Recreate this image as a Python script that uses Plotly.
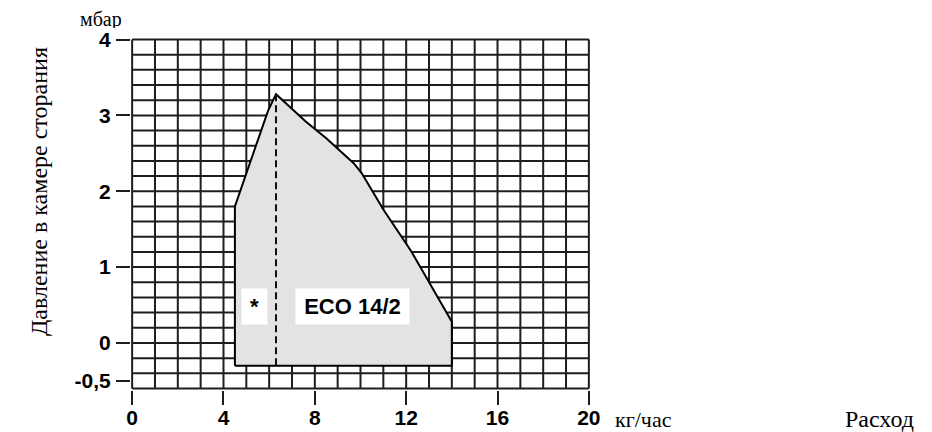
import plotly.graph_objects as go

# ---- data ----
x_ticks = [0, 4, 8, 12, 16, 20]
x_ticklabels = ["0", "4", "8", "12", "16", "20"]
y_ticks = [-0.5, 0, 1, 2, 3, 4]
y_ticklabels = ["-0,5", "0", "1", "2", "3", "4"]

grid_x = list(range(0, 21))                             # vertical grid every 1 kg/h
grid_y = [round(-0.6 + 0.2 * i, 1) for i in range(24)]  # horizontal grid every 0.2 mbar

# working field of ECO 14/2 (polygon)
field_x = [4.5, 14.0, 14.0, 13.0, 12.2, 11.0, 10.6, 10.05, 9.7, 9.0, 8.5, 7.6, 6.3, 5.95, 4.5, 4.5]
field_y = [-0.3, -0.3, 0.28, 0.8, 1.22, 1.76, 1.96, 2.24, 2.37, 2.57, 2.70, 2.92, 3.28, 3.06, 1.8, -0.3]

# dashed divider
dash_x = [6.3, 6.3]
dash_y = [3.28, -0.3]

X_MIN, X_MAX = 0, 20
Y_MIN, Y_MAX = -0.6, 4.0

GRID_COL = "#1e1e1e"

# page offset (browser body margin) and layout in figure pixels
OFF = 8
W, H = 932, 432
L, R, T, B = 123, 350, 29.5, 49.5
pw, ph = W - L - R, H - T - B


def px(xw):
    return (xw - OFF - L) / pw


def py(yw):
    return (H - B - (yw - OFF)) / ph


fig = go.Figure()

# grid as line segments
gx, gy = [], []
for v in grid_x:
    gx += [v, v, None]
    gy += [Y_MIN, Y_MAX, None]
for h in grid_y:
    gx += [X_MIN, X_MAX, None]
    gy += [h, h, None]
fig.add_trace(go.Scatter(x=gx, y=gy, mode="lines",
                         line=dict(color=GRID_COL, width=2),
                         hoverinfo="skip", showlegend=False))

# filled field
fig.add_trace(go.Scatter(x=field_x, y=field_y, mode="lines", fill="toself",
                         fillcolor="#e3e3e3",
                         line=dict(color="#000000", width=2),
                         hoverinfo="skip", showlegend=False))

# dashed line
fig.add_trace(go.Scatter(x=dash_x, y=dash_y, mode="lines",
                         line=dict(color="#111111", width=2, dash="7px,4px"),
                         hoverinfo="skip", showlegend=False))

bold = dict(family="Liberation Sans", size=21, color="#000000", weight="bold")


def serif(s):
    return dict(family="Liberation Serif", size=s, color="#000000")


fig.update_layout(
    width=W, height=H,
    margin=dict(l=L, r=R, t=T, b=B, pad=0, autoexpand=False),
    paper_bgcolor="white", plot_bgcolor="white",
    showlegend=False,
    xaxis=dict(range=[X_MIN - 0.05, X_MAX + 0.05], showgrid=False, zeroline=False,
               showline=False, tickmode="array", tickvals=x_ticks,
               ticktext=x_ticklabels, ticks="outside", ticklen=14,
               tickwidth=2, tickcolor=GRID_COL, tickfont=bold,
               ticklabelstandoff=-5, fixedrange=True, automargin=False),
    yaxis=dict(range=[Y_MIN - 0.02, Y_MAX + 0.02], showgrid=False, zeroline=False,
               showline=False, tickmode="array", tickvals=y_ticks,
               ticktext=y_ticklabels, ticks="outside", ticklen=14,
               tickwidth=2, tickcolor=GRID_COL, tickfont=bold,
               ticklabelstandoff=1, fixedrange=True, automargin=False),
    annotations=[
        dict(x=5.36, y=0.48, xref="x", yref="y", text="*", showarrow=False,
             font=dict(family="Liberation Sans", size=22, color="#000", weight="bold"),
             bgcolor="white", width=21, height=31, borderpad=2),
        dict(x=9.65, y=0.48, xref="x", yref="y", text="ECO 14/2", showarrow=False,
             font=dict(family="Liberation Sans", size=22, color="#000", weight="bold"),
             bgcolor="white", width=109, height=31, borderpad=2),
        dict(x=px(101), y=py(18), xref="paper", yref="paper", text="мбар",
             showarrow=False, font=serif(20), xanchor="center", yanchor="middle",
             height=18, borderpad=0),
        dict(x=px(643), y=py(420), xref="paper", yref="paper", text="кг/час",
             showarrow=False, font=serif(22), xanchor="center", yanchor="middle"),
        dict(x=px(879), y=py(420), xref="paper", yref="paper", text="Расход",
             showarrow=False, font=serif(24), xanchor="center", yanchor="middle"),
        dict(x=px(39), y=py(192), xref="paper", yref="paper",
             text="Давление в камере сторания", showarrow=False,
             font=serif(24), textangle=-90, xanchor="center", yanchor="middle"),
    ],
)

fig.write_html("out.html")
